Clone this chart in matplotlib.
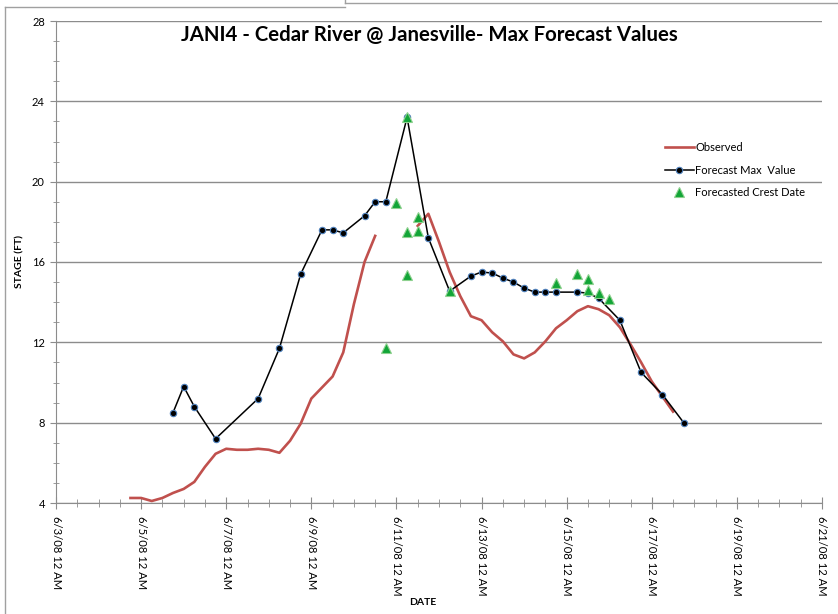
import numpy as np
import pandas as pd
import matplotlib
matplotlib.use('Agg')
import matplotlib.pyplot as plt
from matplotlib.lines import Line2D

plt.rcParams['font.family'] = ['Lato', 'DejaVu Sans']

# observed stage, every 6 hours starting 6/4/08 6 PM (nan = missing)
obs_start = '2008-06-04 18:00'
obs_stage = [4.25, 4.25, 4.1, 4.25, 4.5, 4.7, 5.05, 5.8, 6.45, 6.7, 6.65, 6.65,
             6.7, 6.65, 6.5, 7.1, 7.95, 9.2, 9.75, 10.3, 11.5, 13.9, 16.0, 17.3,
             np.nan, np.nan, np.nan, 17.8, 18.4, 17.0, 15.5, 14.3, 13.3, 13.1,
             12.5, 12.05, 11.4, 11.2, 11.5, 12.05, 12.7, 13.1, 13.55, 13.8,
             13.65, 13.35, 12.75, 11.9, 11.0, 10.05, 9.3, 8.55]

fc_time = ['2008-06-05 18:00', '2008-06-06 00:00', '2008-06-06 06:00', '2008-06-06 18:00',
           '2008-06-07 18:00', '2008-06-08 06:00', '2008-06-08 18:00', '2008-06-09 06:00',
           '2008-06-09 12:00', '2008-06-09 18:00', '2008-06-10 06:00', '2008-06-10 12:00',
           '2008-06-10 18:00', '2008-06-11 06:00', '2008-06-11 18:00', '2008-06-12 06:00',
           '2008-06-12 18:00', '2008-06-13 00:00', '2008-06-13 06:00', '2008-06-13 12:00',
           '2008-06-13 18:00', '2008-06-14 00:00', '2008-06-14 06:00', '2008-06-14 12:00',
           '2008-06-14 18:00', '2008-06-15 06:00', '2008-06-15 12:00', '2008-06-15 18:00',
           '2008-06-16 06:00', '2008-06-16 18:00', '2008-06-17 06:00', '2008-06-17 18:00']
fc_max = [8.5, 9.8, 8.8, 7.2, 9.2, 11.7, 15.4, 17.6, 17.6, 17.45, 18.3, 19.0, 19.0,
          23.2, 17.2, 14.55, 15.3, 15.5, 15.45, 15.2, 15.0, 14.7, 14.5, 14.5, 14.5,
          14.5, 14.45, 14.2, 13.1, 10.5, 9.4, 8.0]

crest_time = ['2008-06-10 18:00', '2008-06-11 00:00', '2008-06-11 06:00', '2008-06-11 06:00',
              '2008-06-11 06:00', '2008-06-11 12:00', '2008-06-11 12:00', '2008-06-12 06:00',
              '2008-06-14 18:00', '2008-06-15 06:00', '2008-06-15 12:00', '2008-06-15 12:00',
              '2008-06-15 18:00', '2008-06-16 00:00']
crest_stage = [11.7, 18.95, 23.2, 17.5, 15.35, 18.25, 17.55, 14.55, 14.95, 15.4, 15.15,
               14.6, 14.45, 14.15]

tick_dates = ['2008-06-03', '2008-06-05', '2008-06-07', '2008-06-09', '2008-06-11',
              '2008-06-13', '2008-06-15', '2008-06-17', '2008-06-19', '2008-06-21']
tick_labels = ['6/3/08 12 AM', '6/5/08 12 AM', '6/7/08 12 AM', '6/9/08 12 AM',
               '6/11/08 12 AM', '6/13/08 12 AM', '6/15/08 12 AM', '6/17/08 12 AM',
               '6/19/08 12 AM', '6/21/08 12 AM']
y_ticks = [4, 8, 12, 16, 20, 24, 28]

obs_time = pd.date_range(obs_start, periods=len(obs_stage), freq='6h')
fc_time = pd.to_datetime(fc_time)
crest_time = pd.to_datetime(crest_time)
tick_dates = pd.to_datetime(tick_dates)

gray = '#8c8c8c'
fig = plt.figure(figsize=(8.38, 6.14), dpi=100)
ax = fig.add_axes([56/838, 1-503/614, 766/838, 482/614])

ax.plot(obs_time, obs_stage, color='#C0504D', lw=1.9, label='Observed', zorder=3)
ax.plot(fc_time, fc_max, color='black', lw=1.1, marker='o', ms=4.6,
        mfc='black', mec='#4F81BD', mew=0.8, label='Forecast Max  Value', zorder=4)
ax.plot(crest_time, crest_stage, ls='none', marker='^', ms=6.5, mfc='#12A537',
        mec='#8ED18F', mew=0.8, label='Forecasted Crest Date', zorder=5)

ax.set_xlim(pd.Timestamp('2008-06-03'), pd.Timestamp('2008-06-21'))
ax.set_ylim(4, 28)
ax.set_xticks(tick_dates)
ax.set_xticklabels(tick_labels, rotation=270, fontsize=8.1, va='top', ha='center')
ax.set_xticks(pd.date_range('2008-06-03', '2008-06-21', freq='12h'), minor=True)
ax.set_yticks(y_ticks)
ax.set_yticks(np.arange(4, 29, 1), minor=True)
ax.tick_params(axis='y', which='major', direction='out', length=4, color=gray,
               labelsize=8, pad=4)
ax.tick_params(axis='y', which='minor', direction='inout', length=5, color=gray)
ax.tick_params(axis='x', which='major', direction='inout', length=8, color=gray, pad=5)
ax.tick_params(axis='x', which='minor', direction='inout', length=6, color=gray)
ax.grid(axis='y', which='major', color=gray, lw=1)
ax.set_axisbelow(True)
for s in ['top', 'right']:
    ax.spines[s].set_visible(False)
for s in ['left', 'bottom']:
    ax.spines[s].set_color(gray)

ax.set_ylabel('STAGE (FT)', fontsize=7.5, fontweight='bold')
ax.set_xlabel('DATE', fontsize=7.5, fontweight='bold')
ax.yaxis.set_label_coords(-0.041, 0.5)
ax.xaxis.set_label_coords(0.479, -0.197)

fig.text(429/838, 1-35/614, 'JANI4 - Cedar River @ Janesville- Max Forecast Values',
         fontsize=14.7, fontweight='bold', ha='center', va='center')

ax.legend(loc='upper left', bbox_to_anchor=(655/838, 1-132/614),
          bbox_transform=fig.transFigure, frameon=False, fontsize=8,
          handlelength=2.6, handletextpad=0.1, labelspacing=1.05)

# chart border remnants
fig.add_artist(Line2D([5/838, 5/838], [0, 1-7/614], color='#a0a0a0', lw=1))
fig.add_artist(Line2D([5/838, 345/838], [1-7/614, 1-7/614], color='#a0a0a0', lw=1))
fig.add_artist(Line2D([345/838, 1], [1-3/614, 1-3/614], color='#a0a0a0', lw=1))
fig.add_artist(Line2D([345/838, 345/838], [1-3/614, 1], color='#a0a0a0', lw=1))

fig.savefig('out.png', dpi=100)
